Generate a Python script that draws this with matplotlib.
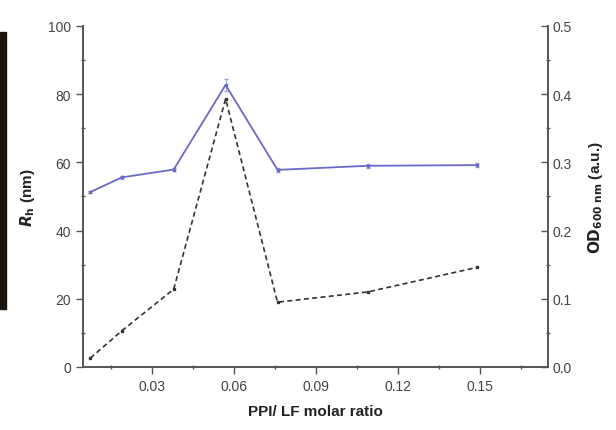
import matplotlib.pyplot as plt
from matplotlib.patches import Rectangle
from matplotlib.ticker import MultipleLocator, FormatStrFormatter

plt.rcParams['font.family'] = ['Liberation Sans', 'DejaVu Sans']

# PPI/LF molar ratio
ratio = [0.0075, 0.019, 0.038, 0.057, 0.076, 0.109, 0.149]
# hydrodynamic radius (nm)
rh = [51.3, 55.6, 57.9, 82.7, 57.8, 59.0, 59.2]
rh_err = [0.4, 0.5, 0.5, 1.8, 0.5, 0.6, 0.6]
# optical density at 600 nm
od = [0.013, 0.053, 0.114, 0.393, 0.095, 0.110, 0.146]

grey = '#555555'
txt = '#444444'

fig = plt.figure(figsize=(6.16, 4.31), dpi=100)
ax = fig.add_axes([0.1347, 0.1462, 0.7549, 0.7912])
ax2 = ax.twinx()

ax.errorbar(ratio, rh, yerr=rh_err, color='#6a6ac8', lw=1.3, marker='s', ms=1.8,
            capsize=1.5, elinewidth=0.6, ecolor='#9a9ad8', clip_on=False, zorder=3)
ax2.plot(ratio, od, color='#333333', lw=1.2, ls=(0, (3, 2)), marker='s', ms=1.8,
         clip_on=False)

ax.set_xlim(0.0048, 0.175)
ax.set_ylim(0, 100)
ax2.set_ylim(0, 0.5)

ax.xaxis.set_major_locator(MultipleLocator(0.03))
ax.xaxis.set_minor_locator(MultipleLocator(0.015))
ax.xaxis.set_major_formatter(FormatStrFormatter('%.2f'))
ax.yaxis.set_major_locator(MultipleLocator(20))
ax.yaxis.set_minor_locator(MultipleLocator(10))
ax2.yaxis.set_major_locator(MultipleLocator(0.1))
ax2.yaxis.set_minor_locator(MultipleLocator(0.05))
ax2.yaxis.set_major_formatter(FormatStrFormatter('%.1f'))

for a in (ax, ax2):
    for s in a.spines.values():
        s.set_color(grey)
        s.set_linewidth(1.2)
    a.spines['top'].set_visible(False)

ax.tick_params(which='major', direction='out', length=5, width=1, color=grey,
               labelsize=10, labelcolor=txt)
ax.tick_params(which='minor', direction='inout', length=3, width=1, color=grey)
ax2.tick_params(which='major', direction='in', length=5, width=1, color=grey,
                labelsize=10, labelcolor=txt)
ax2.tick_params(which='minor', direction='inout', length=3, width=1, color=grey)

ax.set_xlabel('PPI/ LF molar ratio', fontsize=11, fontweight='bold', color='#222222',
              labelpad=8)
ax.set_ylabel(r'$\bfit{R}_{\bf h}$ (nm)', fontsize=11, fontweight='bold',
              color='#222222', labelpad=8)
ax2.set_ylabel(r'$\bf{OD_{600\ nm}}$ (a.u.)', fontsize=11, fontweight='bold',
               color='#222222', labelpad=10)

# dark strip on the left edge of the original image
fig.patches.append(Rectangle((0, 1 - 310 / 431), 6 / 616, 277 / 431,
                             transform=fig.transFigure, color='#1a1410', zorder=0))

fig.savefig('out.png', dpi=100)
